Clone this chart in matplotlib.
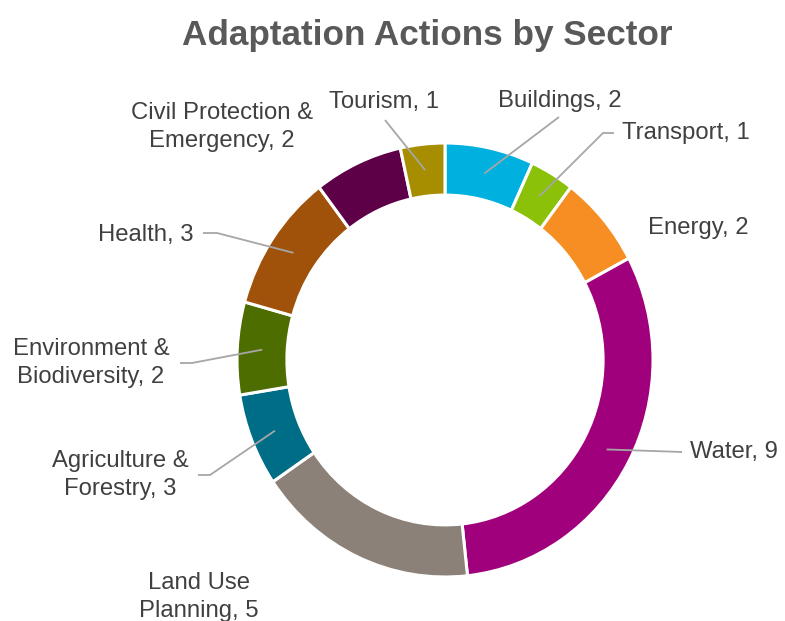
import matplotlib
matplotlib.use("Agg")
import matplotlib.pyplot as plt
import numpy as np

plt.rcParams['font.family'] = ['Liberation Sans', 'DejaVu Sans']

# data (clockwise from 12 o'clock)
sectors = ["Buildings", "Transport", "Energy", "Water", "Land Use Planning",
           "Agriculture & Forestry", "Environment & Biodiversity", "Health",
           "Civil Protection & Emergency", "Tourism"]
values = [2, 1, 2, 9, 5, 2, 2, 3, 2, 1]
label_texts = ["Buildings, 2", "Transport, 1", "Energy, 2", "Water, 9",
               "Land Use\nPlanning, 5", "Agriculture &\nForestry, 3",
               "Environment &\nBiodiversity, 2", "Health, 3",
               "Civil Protection &\nEmergency, 2", "Tourism, 1"]
colors = ["#00B0DE", "#8CC10A", "#F68E24", "#A0007B", "#8B8178",
          "#006D87", "#4D6D00", "#A0520A", "#5E0047", "#A68E00"]

W, H = 785, 621
cx, cy = 445, 360          # ring centre in pixels (from top)
rx, ry = 208, 217          # outer radius in pixels (slightly stretched)

fig = plt.figure(figsize=(W / 100, H / 100), dpi=100)
ax = fig.add_axes([0, 0, 1, 1])
ax.pie(values, colors=colors, startangle=90, counterclock=False, radius=1,
       wedgeprops=dict(width=0.24, edgecolor='white', linewidth=2.2))
ax.set_aspect('auto')
ax.set_xlim(-cx / rx, (W - cx) / rx)
ax.set_ylim(-(H - cy) / ry, cy / ry)
ax.axis('off')


def px(x, y):
    return (x - cx) / rx, (cy - y) / ry


# label layout: (text x, text y, ha, line start x, line start y, elbow dx) in pixels
layout = [
    (560, 101, 'center', 559, 117, 0),
    (686, 133, 'center', 614, 133, -11),
    (698, 228, 'center', None, None, 0),
    (690, 452, 'left', 682, 452, 0),
    (199, 597, 'center', None, None, 0),
    (120, 475, 'center', 198, 475, 12),
    (91, 363, 'center', 180, 363, 12),
    (146, 235, 'center', 203, 233, 14),
    (222, 127, 'center', None, None, 0),
    (384, 102, 'center', 385, 120, 0),
]

total = sum(values)
cum = np.cumsum([0] + values[:-1])
line_r = 0.88
for i, v in enumerate(values):
    mid = (cum[i] + v / 2) / total * 2 * np.pi
    mx, my = line_r * np.sin(mid), line_r * np.cos(mid)
    tx, ty, ha, lx, ly, edx = layout[i]
    ax.text(*px(tx, ty), label_texts[i], ha=ha, va='center', fontsize=17.2,
            color='#404040', linespacing=1.4)
    if lx is not None:
        ex, ey = px(lx + edx, ly)
        sx, sy = px(lx, ly)
        ax.plot([sx, ex, mx], [sy, ey, my], color='#A6A6A6', lw=1.3,
                solid_capstyle='butt')

fig.text(427 / W, 1 - 45 / H, "Adaptation Actions by Sector", ha='center',
         va='baseline', fontsize=25.3, fontweight='bold', color='#595959')

fig.savefig("out.png", dpi=100, facecolor='white')
